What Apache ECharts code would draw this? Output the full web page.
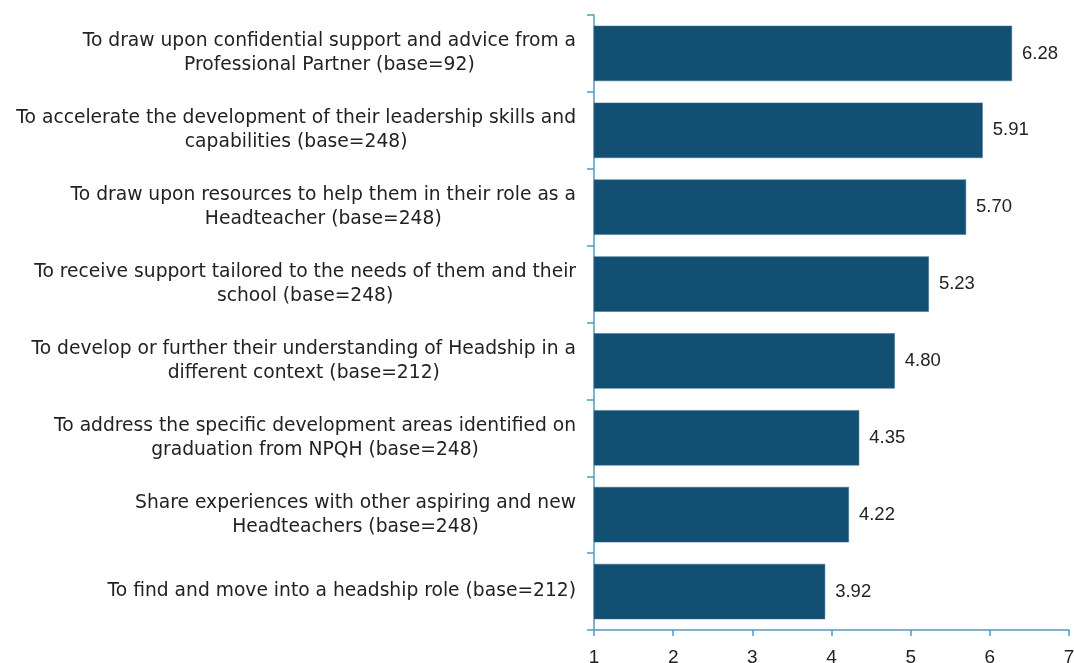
<!DOCTYPE html>
<html><head><meta charset="utf-8">
<script src="https://cdn.jsdelivr.net/npm/echarts@6/dist/echarts.min.js"></script>
<style>html,body{margin:0;padding:0;background:#fff}#c{width:1074px;height:663px}</style>
</head><body><div id="c"></div>
<script>
const categories = [
  "To draw upon confidential support and advice from a\nProfessional Partner (base=92)",
  "To accelerate the development of their leadership skills and\ncapabilities (base=248)",
  "To draw upon resources to help them in their role as a\nHeadteacher (base=248)",
  "To receive support tailored to the needs of them and their\nschool (base=248)",
  "To develop or further their understanding of Headship in a\ndifferent context (base=212)",
  "To address the specific development areas identified on\ngraduation from NPQH (base=248)",
  "Share experiences with other aspiring and new\nHeadteachers (base=248)",
  "To find and move into a headship role (base=212)"
];
const values = [6.28, 5.91, 5.70, 5.23, 4.80, 4.35, 4.22, 3.92];
const xTicks = [1, 2, 3, 4, 5, 6, 7];

const chart = echarts.init(document.getElementById('c'));
const axisColor = '#4f9cc2';
const labelFont = 'DejaVu Sans';
chart.setOption({
  animation: false,
  grid: {left: 594, right: 5, top: 15, bottom: 33, containLabel: false, outerBoundsMode: 'none'},
  xAxis: {
    type: 'value', min: xTicks[0], max: xTicks[xTicks.length-1], interval: 1,
    axisLine: {show: true, lineStyle: {color: axisColor, width: 1.5}},
    axisTick: {show: true, length: 6, lineStyle: {color: axisColor, width: 1.5}},
    splitLine: {show: false},
    axisLabel: {color: '#222', fontSize: 19, fontFamily: 'Liberation Sans, Arial', margin: 18}
  },
  yAxis: {
    type: 'category', data: categories, inverse: true,
    axisLine: {show: true, lineStyle: {color: axisColor, width: 1.5}},
    axisTick: {show: true, length: 7, lineStyle: {color: axisColor, width: 1.5}},
    axisLabel: {
      color: '#222', margin: 18, align: 'right',
      formatter: v => v.split('\n').map(s => '{a|' + s + '}').join('\n'),
      rich: {a: {fontSize: 18.7, fontFamily: labelFont, lineHeight: 24, align: 'center', color: '#222'}}
    }
  },
  series: [{
    type: 'bar', data: values, barCategoryGap: '28%',
    itemStyle: {color: '#124f73', borderColor: '#3a7090', borderWidth: 0.5},
    label: {show: true, position: 'right', distance: 10, color: '#222', fontSize: 18.5,
      fontFamily: 'Liberation Sans, Arial', formatter: p => p.value.toFixed(2)}
  }]
});
</script></body></html>
